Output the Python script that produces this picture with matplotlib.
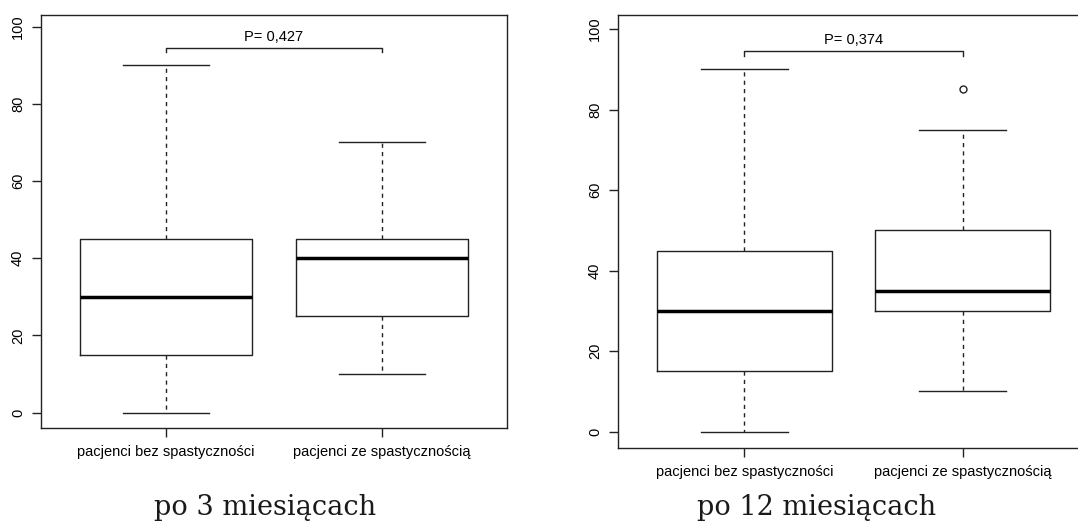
import matplotlib
matplotlib.use('Agg')
import matplotlib.pyplot as plt

# Values (five-number summaries per group).
groups = ['pacjenci bez spastyczności', 'pacjenci ze spastycznością']

whislo_3m = [0, 10]
q1_3m = [15, 25]
med_3m = [30, 40]
q3_3m = [45, 45]
whishi_3m = [90, 70]
fliers_3m = [[], []]

whislo_12m = [0, 10]
q1_12m = [15, 30]
med_12m = [30, 35]
q3_12m = [45, 50]
whishi_12m = [90, 75]
fliers_12m = [[], [85]]

p_values = ['P= 0,427', 'P= 0,374']
subtitles = ['po 3 miesiącach', 'po 12 miesiącach']
y_ticks = [0, 20, 40, 60, 80, 100]

W, H = 1078, 525
LINE = '#222222'


def make_stats(lo, q1, med, q3, hi, fliers):
    return [dict(whislo=lo[i], q1=q1[i], med=med[i], q3=q3[i], whishi=hi[i], fliers=fliers[i])
            for i in range(len(lo))]


def px_axes(fig, left, top, right, bottom):
    # Place axes by pixel edges of the reference image.
    return fig.add_axes([left / W, 1 - bottom / H, (right - left) / W, (bottom - top) / H])


def draw_panel(ax, stats, p_text, ytop):
    ax.bxp(stats, positions=[1, 2], widths=0.8, showfliers=True, patch_artist=False,
           boxprops=dict(color=LINE, linewidth=1.0),
           medianprops=dict(color='black', linewidth=2.5, solid_capstyle='butt'),
           whiskerprops=dict(color=LINE, linewidth=1.0, linestyle=(0, (3, 3))),
           capprops=dict(color=LINE, linewidth=1.0),
           capwidths=0.4,
           flierprops=dict(marker='o', markersize=5, markerfacecolor='none',
                           markeredgecolor=LINE, markeredgewidth=1.0))
    ax.set_xlim(0.42, 2.58)
    ax.set_ylim(-4, ytop)
    ax.set_xticks([1, 2])
    ax.set_xticklabels(groups)
    ax.set_yticks(y_ticks)
    ax.tick_params(axis='both', direction='out', length=6.5, width=1.0, color=LINE,
                   labelsize=10.5, pad=6)
    ax.tick_params(axis='y', labelrotation=90, pad=5)
    for lab in ax.get_yticklabels():
        lab.set_verticalalignment('center')
    for sp in ax.spines.values():
        sp.set_color(LINE)
        sp.set_linewidth(1.0)

    # significance bracket between the groups
    ax.plot([1, 1, 2, 2], [93.3, 94.5, 94.5, 93.3], color=LINE, linewidth=1.0)
    ax.text(1.5, 96.2, p_text, ha='center', va='baseline', fontsize=10.5)


plt.rcParams['font.family'] = ['Liberation Sans', 'DejaVu Sans']

fig = plt.figure(figsize=(W / 100, H / 100), dpi=100)

ax1 = px_axes(fig, 41, 15, 507, 428)
draw_panel(ax1, make_stats(whislo_3m, q1_3m, med_3m, q3_3m, whishi_3m, fliers_3m), p_values[0], 103.0)

ax2 = px_axes(fig, 618, 15.4, 1089, 447.8)
draw_panel(ax2, make_stats(whislo_12m, q1_12m, med_12m, q3_12m, whishi_12m, fliers_12m), p_values[1], 103.4)

fig.text(265 / W, 1 - 515 / H, subtitles[0], ha='center', va='baseline',
         fontsize=19.5, family='DejaVu Serif', color='#1a1a1a')
fig.text(817 / W, 1 - 515 / H, subtitles[1], ha='center', va='baseline',
         fontsize=19.5, family='DejaVu Serif', color='#1a1a1a')

fig.savefig('out.png', dpi=100)
